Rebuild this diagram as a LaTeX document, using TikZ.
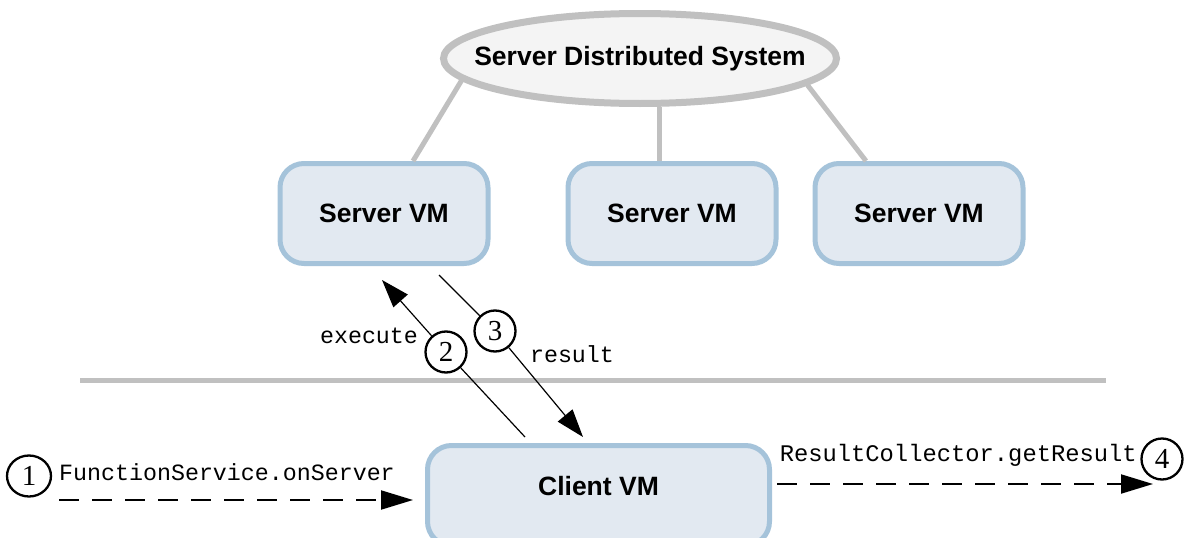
\documentclass[tikz,border=0pt]{standalone}
\usepackage{fontspec}
\setmainfont{Liberation Serif}
\setsansfont{Liberation Sans}
\setmonofont{Liberation Mono}
\usetikzlibrary{arrows.meta,shapes.geometric}
\definecolor{vmfill}{HTML}{E2E9F1}
\definecolor{vmedge}{HTML}{A5C3DA}
\definecolor{linkgray}{HTML}{C0C0C0}
\definecolor{sysfill}{HTML}{F4F4F4}
\begin{document}
\begin{tikzpicture}[x=1pt,y=-1pt,
  vm/.style={draw=vmedge, line width=5pt, fill=vmfill, rounded corners=24pt,
    minimum width=208pt, minimum height=100pt, inner sep=0pt,
    font=\sffamily\bfseries\fontsize{26.5}{30}\selectfont},
  sys/.style={ellipse, draw=linkgray, line width=7pt, fill=sysfill,
    minimum width=393pt, minimum height=90pt, inner sep=0pt,
    font=\sffamily\bfseries\fontsize{26.5}{30}\selectfont},
  link/.style={draw=linkgray, line width=5pt},
  divider/.style={draw=linkgray, line width=5pt},
  stepnum/.style={circle, draw, line width=2.3pt, fill=white, minimum size=41pt,
    inner sep=0pt, font=\fontsize{29}{32}\selectfont},
  code/.style={inner sep=0pt, font=\ttfamily\fontsize{23.3}{28}\selectfont},
  flow/.style={line width=1.2pt, -{Triangle[length=28pt,width=19pt]}},
  call/.style={line width=2pt, dash pattern=on 20pt off 13pt,
    -{Triangle[length=32pt,width=19pt]}}]
\useasboundingbox (0,0) rectangle (1186,538);

% server side
\node[sys] (sys) at (640,58.5) {\makebox[0pt][c]{Server Distributed System}};
\node[vm] (s1) at (384,213.5) {Server VM};
\node[vm] (s2) at (672,213.5) {Server VM};
\node[vm] (s3) at (919,213.5) {Server VM};
\draw[link] (sys.187.5) -- ([xshift=29pt]s1.north);
\draw[link] ([xshift=19pt]sys.south) -- ([xshift=19pt]sys.south |- s2.north);
\draw[link] (sys.351.4) -- ([xshift=-53pt]s3.north);

% client / server boundary
\coordinate (dl) at (80,380);
\coordinate (dr) at (1106,380);
\draw[divider] (dl) -- (dr);

% client side
\node[vm, minimum width=342pt, text depth=20pt] (client) at (598.5,495.5) {Client VM};

% execute / result exchange
\node[stepnum] (n2) at (446,352) {2};
\node[stepnum] (n3) at (495,331) {3};
\coordinate (x0) at ([xshift=-73.5pt,yshift=6pt]client.north);
\coordinate (x1) at ([xshift=-2pt,yshift=-14pt]s1.south);
\coordinate (r0) at ([xshift=55pt,yshift=-9pt]s1.south);
\coordinate (r1) at ([xshift=-15.5pt,yshift=6pt]client.north);
\draw[line width=1.2pt] (x0) -- (n2);
\draw[flow] (n2) -- (x1);
\draw[line width=1.2pt] (r0) -- (n3);
\draw[flow] (n3) -- (r1);
\node[code, anchor=base] (lexec) at (369,343) {execute};
\node[code, anchor=base] (lres) at (572,362) {result};

% invocation and result collection
\node[stepnum, minimum width=44pt, ellipse] (n1) at (29,476) {1};
\node[code, anchor=base west] (lcall) at (59,480) {FunctionService.onServer};
\coordinate (a0) at (59,500);
\draw[call] (a0) -- ([xshift=-12pt]client.west |- a0);
\node[stepnum] (n4) at (1162,459) {4};
\node[code, font=\ttfamily\fontsize{23.8}{28}\selectfont, anchor=base east] (lget) at (1137,461) {ResultCollector.getResult};
\coordinate (b1) at (1153,484);
\draw[call] ([xshift=5pt]client.east |- b1) -- (b1);
\end{tikzpicture}
\end{document}
